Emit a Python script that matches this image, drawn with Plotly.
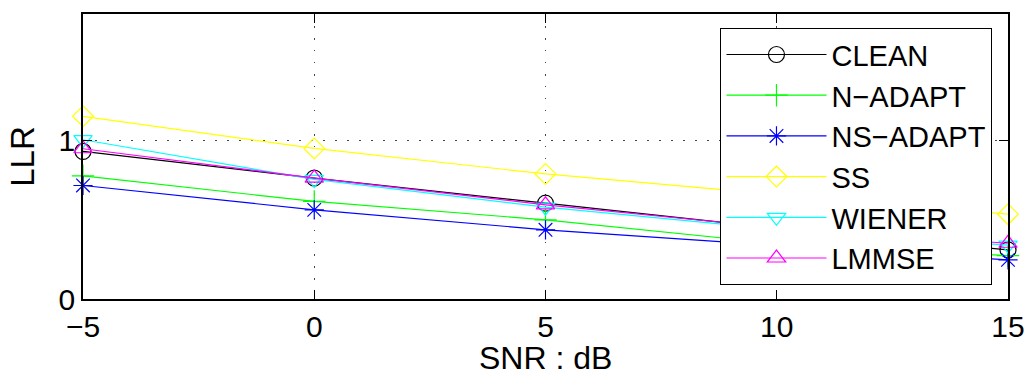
import plotly.graph_objects as go

snr = [-5, 0, 5, 10, 15]
clean = [0.932, 0.764, 0.605, 0.447, 0.31]
n_adapt = [0.778, 0.616, 0.50, 0.35, 0.274]
ns_adapt = [0.717, 0.563, 0.437, 0.338, 0.247]
ss = [1.154, 0.951, 0.79, 0.66, 0.536]
wiener = [1.006, 0.755, 0.58, 0.44, 0.34]
lmmse = [0.949, 0.764, 0.595, 0.45, 0.352]

series = [
    ("CLEAN", clean, "#000000", "circle-open"),
    ("N\u2212ADAPT", n_adapt, "#00ff00", "cross-thin-open"),
    ("NS\u2212ADAPT", ns_adapt, "#0000ff", "asterisk-open"),
    ("SS", ss, "#ffff00", "diamond-open"),
    ("WIENER", wiener, "#00ffff", "triangle-down-open"),
    ("LMMSE", lmmse, "#ff00ff", "triangle-up-open"),
]

fig = go.Figure()
for name, vals, color, sym in series:
    fig.add_trace(go.Scatter(
        x=snr, y=vals, name=name, mode="lines+markers",
        line=dict(color=color, width=1.2),
        marker=dict(symbol=sym, size=16, color=color, line=dict(color=color, width=1.2)),
        cliponaxis=False,
    ))

font_family = "Liberation Sans, Arial, sans-serif"
fig.update_layout(
    width=1029, height=377,
    margin=dict(l=83, r=21, t=14, b=78, autoexpand=False),
    paper_bgcolor="white", plot_bgcolor="white",
    font=dict(family=font_family, size=30, color="black"),
    showlegend=True,
    legend=dict(
        x=0.983, y=0.951, xanchor="right", yanchor="top",
        bgcolor="white", bordercolor="black", borderwidth=1.2,
        font=dict(size=29), itemwidth=100, tracegroupgap=0,
    ),
    xaxis=dict(
        range=[-5, 15], tickvals=[-5, 0, 5, 10, 15], automargin=False,
        showline=True, linecolor="black", linewidth=1.5, mirror="ticks",
        ticks="inside", ticklen=9, tickcolor="black", ticklabelstandoff=0,
        showgrid=True, gridcolor="#444444", griddash="1.5px,10.5px", gridwidth=1.2,
        zeroline=False,
    ),
    yaxis=dict(
        range=[0, 1.8], tickvals=[0, 1], automargin=False,
        showline=True, linecolor="black", linewidth=1.5, mirror="ticks",
        ticks="inside", ticklen=9, tickcolor="black",
        showgrid=True, gridcolor="#444444", griddash="1.5px,10.5px", gridwidth=1.2,
        zeroline=False,
        title=dict(text="LLR", font=dict(size=33), standoff=14),
    ),
    annotations=[dict(
        text="SNR : dB", xref="paper", yref="paper", x=0.5, y=-0.207,
        xanchor="center", yanchor="middle", showarrow=False,
        font=dict(size=32, family=font_family, color="black"),
    )],
)

fig.write_html("out.html")
